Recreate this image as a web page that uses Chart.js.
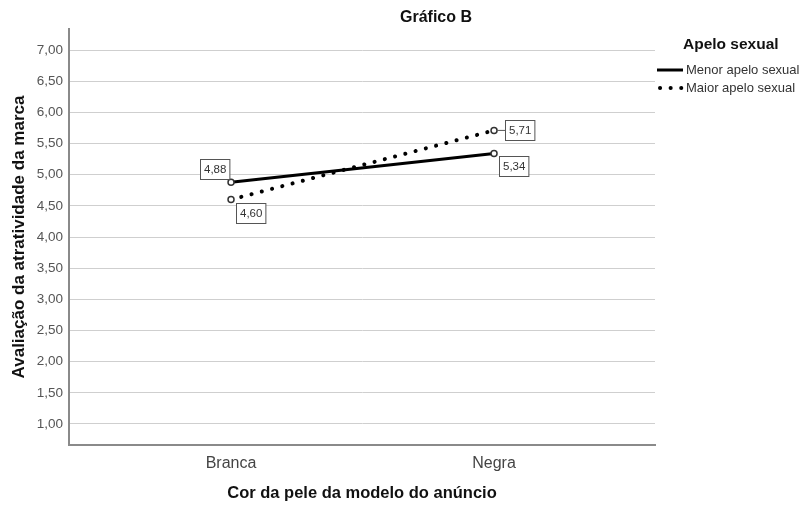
<!DOCTYPE html>
<html>
<head>
<meta charset="utf-8">
<script src="https://cdn.jsdelivr.net/npm/chart.js@4.4.1/dist/chart.umd.min.js"></script>
<style>
  html, body { margin: 0; padding: 0; background: #ffffff; }
  #wrap { width: 803px; height: 507px; position: relative; }
</style>
</head>
<body>
<div id="wrap"><canvas id="c" width="803" height="507"></canvas></div>
<script>
// ---- data ----
const categories = ['Branca', 'Negra'];
const seriesNames = ['Menor apelo sexual', 'Maior apelo sexual'];
const menorValues = [4.88, 5.34];
const maiorValues = [4.60, 5.71];
const yTickValues = [1.0, 1.5, 2.0, 2.5, 3.0, 3.5, 4.0, 4.5, 5.0, 5.5, 6.0, 6.5, 7.0];
const chartTitle = 'Gráfico B';
const legendTitle = 'Apelo sexual';
const xTitle = 'Cor da pele da modelo do anúncio';
const yTitle = 'Avaliação da atratividade da marca';

const FONT = "'Liberation Sans', Arial, sans-serif";
const fmt = v => v.toFixed(2).replace('.', ',');
const toPoints = vals => vals.map((v, i) => ({ x: i + 1, y: v }));

// label placement per point (style, not data)
const labelPlacement = [['tl', 'br'], ['br', 'r']];

const dottedDash = [0.1, 10.5];

const labelPlugin = {
  id: 'valueBoxes',
  afterDatasetsDraw(chart) {
    const ctx = chart.ctx;
    ctx.save();
    ctx.font = '11.5px ' + FONT;
    chart.data.datasets.forEach((ds, di) => {
      const meta = chart.getDatasetMeta(di);
      meta.data.forEach((pt, i) => {
        const v = ds.data[i].y;
        const txt = fmt(v);
        const w = ctx.measureText(txt).width + 7;
        const h = 20;
        const px = pt.x, py = pt.y;
        let bx, by;
        const place = labelPlacement[di][i];
        if (place === 'tl') { bx = px - 2 - w; by = py - 3 - h; }
        else if (place === 'br') { bx = px + 5; by = py + 3; }
        else { bx = px + 11; by = py - h / 2;
          ctx.strokeStyle = '#555'; ctx.lineWidth = 1;
          ctx.beginPath(); ctx.moveTo(px + 3, py); ctx.lineTo(bx, py); ctx.stroke();
        }
        bx = Math.round(bx) + 0.5; by = Math.round(by) + 0.5;
        ctx.fillStyle = '#ffffff';
        ctx.fillRect(bx, by, w, h);
        ctx.strokeStyle = '#555';
        ctx.lineWidth = 1;
        ctx.strokeRect(bx, by, w, h);
        ctx.fillStyle = '#333';
        ctx.textAlign = 'center';
        ctx.textBaseline = 'middle';
        ctx.fillText(txt, bx + w / 2, by + h / 2 + 0.5);
      });
    });
    ctx.restore();
  }
};

const decorPlugin = {
  id: 'decor',
  afterDraw(chart) {
    const ctx = chart.ctx;
    ctx.save();
    // chart title
    ctx.fillStyle = '#111';
    ctx.font = 'bold 16px ' + FONT;
    ctx.textAlign = 'center';
    ctx.textBaseline = 'middle';
    ctx.fillText(chartTitle, 436, 18);
    // legend
    ctx.textAlign = 'left';
    ctx.font = 'bold 15.5px ' + FONT;
    ctx.fillText(legendTitle, 683, 45);
    ctx.font = '13px ' + FONT;
    chart.data.datasets.forEach((ds, i) => {
      const y = 70 + i * 18;
      ctx.strokeStyle = ds.borderColor;
      ctx.lineWidth = ds.borderWidth;
      ctx.lineCap = ds.borderCapStyle || 'butt';
      ctx.setLineDash(i === 0 ? [] : [0.1, 10.5]);
      ctx.beginPath();
      ctx.moveTo(i === 0 ? 657 : 660, y);
      ctx.lineTo(683, y);
      ctx.stroke();
      ctx.setLineDash([]);
      ctx.fillStyle = '#333';
      ctx.fillText(ds.label, 686, y + 0.5);
    });
    ctx.restore();
  }
};

new Chart(document.getElementById('c'), {
  type: 'line',
  data: {
    datasets: [
      {
        label: seriesNames[0],
        data: toPoints(menorValues),
        borderColor: '#000000',
        borderWidth: 3,
        pointRadius: 3,
        pointBorderWidth: 1.5,
        pointBorderColor: '#333',
        pointBackgroundColor: '#ffffff',
        tension: 0
      },
      {
        label: seriesNames[1],
        data: toPoints(maiorValues),
        borderColor: '#000000',
        borderWidth: 4,
        borderDash: dottedDash,
        borderCapStyle: 'round',
        pointRadius: 3,
        pointBorderWidth: 1.5,
        pointBorderColor: '#333',
        pointBackgroundColor: '#ffffff',
        tension: 0
      }
    ]
  },
  options: {
    responsive: false,
    animation: false,
    devicePixelRatio: 1,
    layout: { padding: { left: 0, right: 148, top: 29, bottom: 0 } },
    plugins: {
      legend: { display: false },
      title: { display: false },
      tooltip: { enabled: false }
    },
    scales: {
      x: {
        type: 'linear',
        min: 0.384,
        max: 2.612,
        afterFit: s => { s.height = 62; },
        afterBuildTicks: s => { s.ticks = categories.map((c, i) => ({ value: i + 1 })); },
        ticks: {
          callback: v => categories[Math.round(v) - 1],
          font: { family: FONT, size: 16 },
          color: '#444',
          padding: 9,
          maxRotation: 0
        },
        grid: { display: false, drawTicks: false, tickLength: 0 },
        border: { display: true, color: '#8a8a8a', width: 2 },
        title: {
          display: true,
          text: xTitle,
          font: { family: FONT, size: 16.5, weight: 'bold' },
          color: '#111',
          padding: { top: 0, bottom: 4 }
        }
      },
      y: {
        type: 'linear',
        min: 0.663,
        max: 7.337,
        afterFit: s => { s.width = 69; },
        afterBuildTicks: s => { s.ticks = yTickValues.map(v => ({ value: v })); },
        ticks: {
          callback: v => fmt(v),
          font: { family: FONT, size: 13.5 },
          color: '#555',
          padding: 6
        },
        grid: { color: '#cfcfcf', lineWidth: 1, drawTicks: false, tickLength: 0 },
        border: { display: true, color: '#8a8a8a', width: 2 },
        title: {
          display: true,
          text: yTitle,
          font: { family: FONT, size: 17, weight: 'bold' },
          color: '#111',
          padding: { top: 9, bottom: 9 }
        }
      }
    }
  },
  plugins: [labelPlugin, decorPlugin]
});
</script>
</body>
</html>
